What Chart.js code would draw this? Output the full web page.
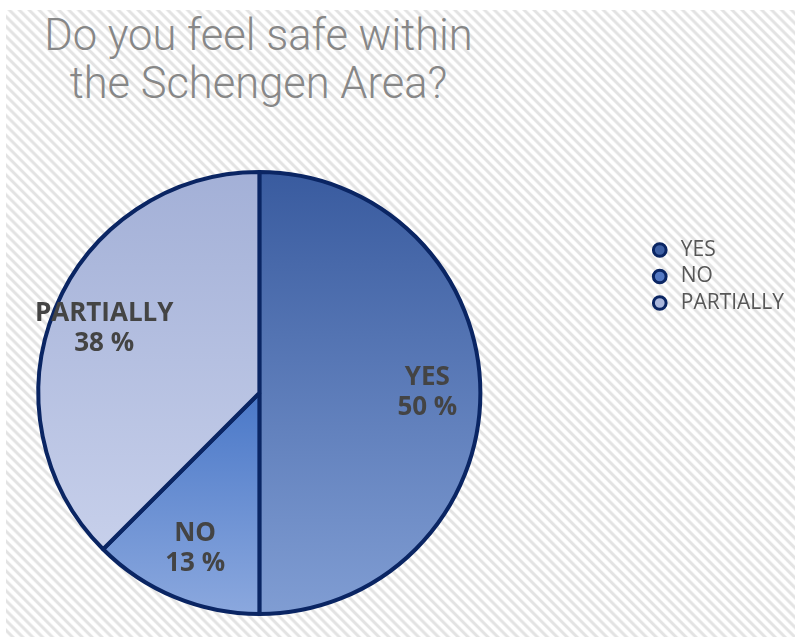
<!DOCTYPE html>
<html>
<head>
<meta charset="utf-8">
<script src="https://cdn.jsdelivr.net/npm/chart.js@4"></script>
<style>
  html, body { margin: 0; padding: 0; background: #ffffff; }
  #page { position: relative; width: 795px; height: 637px; overflow: hidden; }
  #bg {
    position: absolute; left: 6px; top: 10px; right: 0; bottom: 0;
    background: repeating-linear-gradient(45deg, #ffffff 0px, #ffffff 2.5px, #e3e3e3 4px, #e3e3e3 5.5px, #ffffff 7px);
  }
  #title {
    position: absolute; left: 0; top: 12px; width: 517px;
    text-align: center; font-family: Roboto, "Liberation Sans", sans-serif;
    font-weight: 300; font-size: 43.5px; line-height: 48px; color: #878787;
  }
  /* canvas starts left of the page so the pie can sit left of the legend's default spot */
  #wrap { position: absolute; left: -130px; top: 0; width: 925px; height: 637px; }
</style>
</head>
<body>
<div id="page">
  <div id="bg"></div>
  <div id="title">Do you feel safe within<br>the Schengen Area?</div>
  <div id="wrap"><canvas id="chart" width="925" height="637"></canvas></div>
</div>
<script>
const labels = ["YES", "NO", "PARTIALLY"]
const shares = [50, 12.5, 37.5]

// slice gradients (top stop, bottom stop) and flat legend colours
const sliceStops = [
  [[0, "#395b9f"], [1, "#809dd3"]],
  [[0.5, "#4a78c8"], [1, "#8ba8de"]],
  [[0, "#a3b0d7"], [1, "#cdd5ee"]]
]
const legendFill = ["#3e60a4", "#5479c3", "#aab7dc"]
const navy = "#0a2563"
const pieRadius = 221

function sliceFill(context) {
  const chart = context.chart
  const area = chart.chartArea
  const i = context.dataIndex
  if (!area) return legendFill[i]
  const cy = (area.top + area.bottom) / 2
  const g = chart.ctx.createLinearGradient(0, cy - pieRadius, 0, cy + pieRadius)
  sliceStops[i].forEach(s => g.addColorStop(s[0], s[1]))
  return g
}

const sliceLabels = {
  id: "sliceLabels",
  afterDatasetsDraw(chart) {
    const ctx = chart.ctx
    const meta = chart.getDatasetMeta(0)
    ctx.save()
    ctx.font = "bold 26px 'Open Sans', 'DejaVu Sans', sans-serif"
    ctx.fillStyle = "#444444"
    ctx.textAlign = "center"
    ctx.textBaseline = "middle"
    meta.data.forEach((arc, i) => {
      const p = arc.getProps(["x", "y", "startAngle", "endAngle", "outerRadius"], true)
      const mid = (p.startAngle + p.endAngle) / 2
      const r = p.outerRadius * 0.76
      const x = p.x + Math.cos(mid) * r
      const y = p.y + Math.sin(mid) * r
      ctx.fillText(labels[i], x, y - 15)
      ctx.fillText(Math.round(shares[i]) + " %", x, y + 15)
    })
    ctx.restore()
  }
}

new Chart(document.getElementById("chart"), {
  type: "pie",
  data: {
    labels: labels,
    datasets: [{
      data: shares,
      backgroundColor: sliceFill,
      borderColor: navy,
      borderWidth: 4,
      clip: false
    }]
  },
  options: {
    responsive: false,
    animation: false,
    devicePixelRatio: 1,
    radius: pieRadius,
    events: [],
    layout: {
      padding: { left: 5, right: 1, top: 234, bottom: 85 }
    },
    plugins: {
      tooltip: { enabled: false },
      legend: {
        display: true,
        position: "right",
        align: "start",
        labels: {
          usePointStyle: true,
          pointStyle: "circle",
          boxHeight: 9,
          padding: 5.5,
          color: "#575757",
          font: { family: "'Open Sans', 'DejaVu Sans', sans-serif", size: 21 },
          generateLabels(chart) {
            const items = Chart.overrides.pie.plugins.legend.labels.generateLabels(chart)
            return items.map((item, i) => Object.assign(item, {
              fillStyle: legendFill[i],
              strokeStyle: navy,
              lineWidth: 3
            }))
          }
        }
      }
    }
  },
  plugins: [sliceLabels]
})
</script>
</body>
</html>
